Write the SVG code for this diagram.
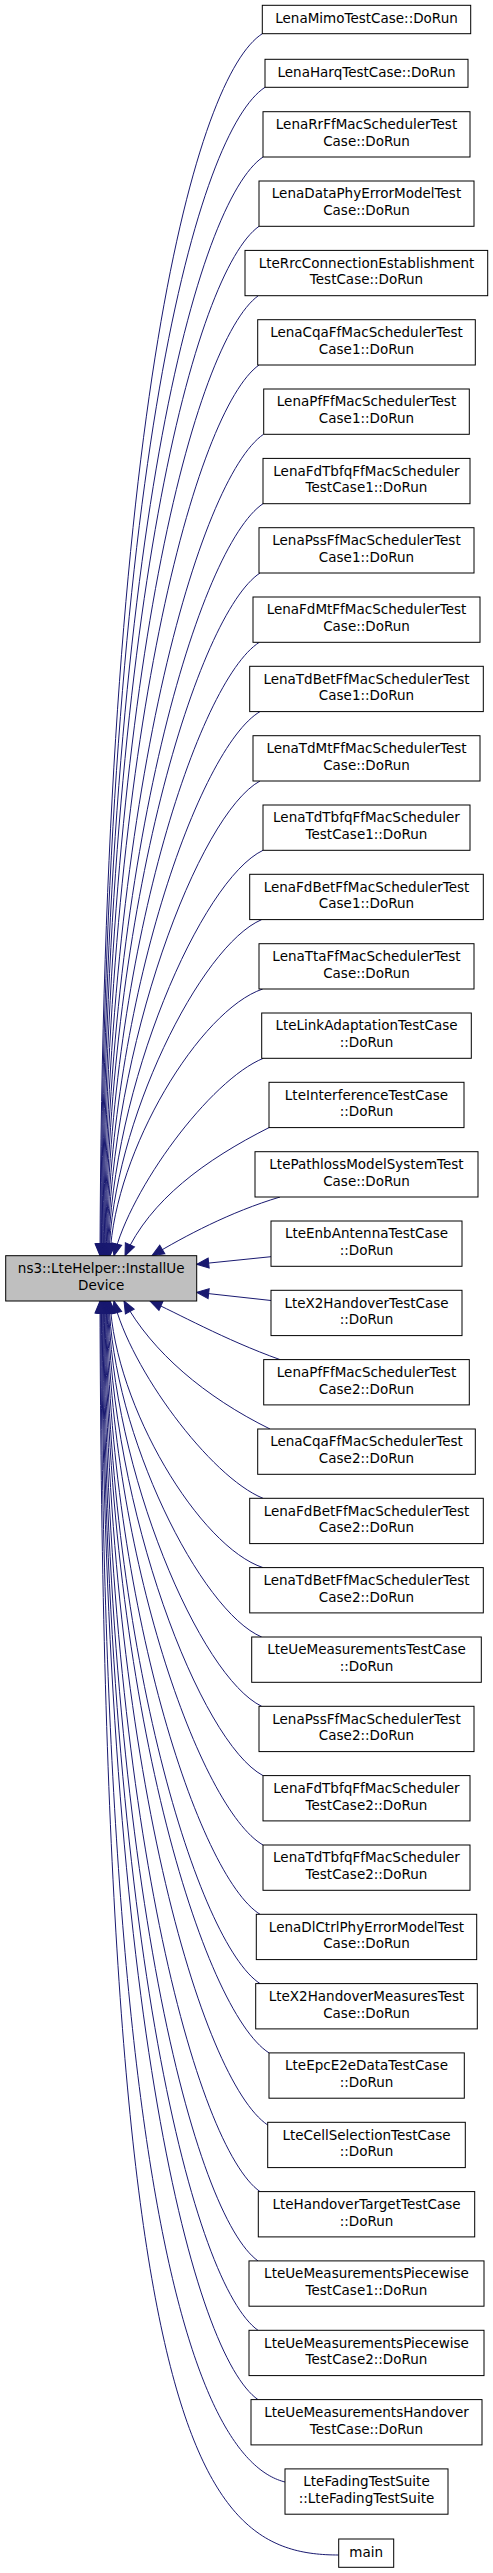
<svg xmlns="http://www.w3.org/2000/svg" width="493" height="2573" viewBox="0 0 493 2573">
<defs>
<marker id="ah" markerUnits="userSpaceOnUse" markerWidth="14" markerHeight="12" viewBox="-1 -1 14 12" refX="12" refY="5" orient="auto-start-reverse" overflow="visible">
<path d="M0,0 L12,5 L0,10 z" fill="#191970" stroke="#191970" stroke-width="1"/>
</marker>
<style>
.n rect{fill:#ffffff;stroke:#000000;stroke-width:1}
.c rect{fill:#bfbfbf;stroke:#000000;stroke-width:1}
text{font-family:"DejaVu Sans","Liberation Sans",sans-serif;font-size:13.5px;text-anchor:middle;fill:#000000}
.e path{fill:none;stroke:#191970;stroke-width:1;marker-start:url(#ah)}
</style>
</defs>
<rect width="493" height="2573" fill="#ffffff"/>
<g id="edges" class="e">
<path d="M100,1255.7 C103,400.3 197.4,75.2 262.3,33.7"/>
<path d="M100.7,1255.7 C103.7,459.4 199.3,130.1 265,87.3"/>
<path d="M101.4,1255.7 C104.4,533.4 198.4,200.8 263,157"/>
<path d="M102.1,1255.7 C105.1,603.6 196.2,270.9 259,226.3"/>
<path d="M102.8,1255.7 C105.8,670.8 196.1,340.7 258.3,295.7"/>
<path d="M103.5,1255.7 C106.5,734 196.8,409.4 259,365"/>
<path d="M104.2,1255.7 C107.2,794.3 199.8,478.1 263.5,434.3"/>
<path d="M104.9,1255.7 C107.9,851.5 199.8,546.5 263,503.7"/>
<path d="M105.6,1255.7 C108.6,904.9 198.2,613.9 260,573"/>
<path d="M106.3,1255.7 C109.3,955.5 198.1,681.5 259.3,642.3"/>
<path d="M107,1255.7 C110,1002.2 198.8,747.9 260,711.6"/>
<path d="M107.7,1255.7 C110.7,1045.9 199.1,814.2 260,781"/>
<path d="M108.4,1255.7 C111.4,1086.2 201.2,880 263,850.3"/>
<path d="M109.1,1255.7 C112.1,1123.2 200.7,945.4 261.7,919.6"/>
<path d="M110,1255.7 C115,1150 200,1010 262.7,989"/>
<path d="M114,1255.7 C130,1189 210,1080 263.3,1058.3"/>
<path d="M125,1255.7 C150,1200 205,1160 269,1127.6"/>
<path d="M152,1255.7 C185,1236 230,1212 280,1197"/>
<path d="M196.7,1264.3 L271,1256.7"/>
<path d="M196.7,1292.3 L271,1300.5"/>
<path d="M150,1301 C175,1312 225,1340 280,1359.6"/>
<path d="M124,1301 C152,1352 205,1397 270,1429"/>
<path d="M114,1301 C130,1368 210,1476.7 263,1498.3"/>
<path d="M110,1301 C115,1407 200,1547 263,1567.6"/>
<path d="M109.1,1301 C112.1,1433.6 200.7,1611.5 261.7,1637"/>
<path d="M108.4,1301 C111.4,1470.7 200.4,1677 261.7,1706.3"/>
<path d="M107.7,1301 C110.7,1510.8 200.9,1742.5 263,1775.6"/>
<path d="M107,1301 C110,1554.6 200.6,1809 263,1845"/>
<path d="M106.3,1301 C109.3,1601.7 198.5,1875.9 260,1914.3"/>
<path d="M105.6,1301 C108.6,1652 198.2,1943.1 260,1983.6"/>
<path d="M104.9,1301 C107.9,1705.7 203.4,2010.7 269,2052.9"/>
<path d="M104.2,1301 C107.2,1764.6 202.3,2081.2 267.7,2125"/>
<path d="M103.5,1301 C106.5,1822.9 197.4,2147.5 260,2191.6"/>
<path d="M102.8,1301 C105.8,1886.5 195.9,2216.5 258,2260.9"/>
<path d="M102.1,1301 C105.1,1953.4 195.6,2286.1 258,2330.3"/>
<path d="M101.4,1301 C104.4,2023.7 195.4,2356.1 258,2399.6"/>
<path d="M100.7,1301 C103.7,2250 205,2462 285,2482"/>
<path d="M100,1301 C103,2450 200,2555 338.7,2555"/>
</g>
<g id="node_center" class="c"><rect x="5.7" y="1255.7" width="191" height="45.3"/><text x="101.2" y="1273">ns3::LteHelper::InstallUe</text><text x="101.2" y="1290">Device</text></g>
<g id="node_mimo" class="n"><rect x="262.3" y="5.3" width="208.4" height="28.4"/><text x="366.5" y="23">LenaMimoTestCase::DoRun</text></g>
<g id="node_harq" class="n"><rect x="265" y="59.3" width="203" height="28"/><text x="366.5" y="77">LenaHarqTestCase::DoRun</text></g>
<g id="node_rrff" class="n"><rect x="263" y="111.7" width="207" height="45.3"/><text x="366.5" y="129">LenaRrFfMacSchedulerTest</text><text x="366.5" y="145.7">Case::DoRun</text></g>
<g id="node_dataphy" class="n"><rect x="259" y="181" width="215" height="45.3"/><text x="366.5" y="198.3">LenaDataPhyErrorModelTest</text><text x="366.5" y="215">Case::DoRun</text></g>
<g id="node_rrc" class="n"><rect x="245" y="250.4" width="242.7" height="45.3"/><text x="366.5" y="267.7">LteRrcConnectionEstablishment</text><text x="366.5" y="284.4">TestCase::DoRun</text></g>
<g id="node_cqa1" class="n"><rect x="257.7" y="319.7" width="217.6" height="45.3"/><text x="366.5" y="337">LenaCqaFfMacSchedulerTest</text><text x="366.5" y="353.7">Case1::DoRun</text></g>
<g id="node_pf1" class="n"><rect x="263.7" y="389" width="205.6" height="45.3"/><text x="366.5" y="406.3">LenaPfFfMacSchedulerTest</text><text x="366.5" y="423">Case1::DoRun</text></g>
<g id="node_fdtbfq1" class="n"><rect x="263" y="458.4" width="207" height="45.3"/><text x="366.5" y="475.7">LenaFdTbfqFfMacScheduler</text><text x="366.5" y="492.4">TestCase1::DoRun</text></g>
<g id="node_pss1" class="n"><rect x="259" y="527.7" width="215" height="45.3"/><text x="366.5" y="545">LenaPssFfMacSchedulerTest</text><text x="366.5" y="561.7">Case1::DoRun</text></g>
<g id="node_fdmt" class="n"><rect x="253" y="597" width="227" height="45.3"/><text x="366.5" y="614.3">LenaFdMtFfMacSchedulerTest</text><text x="366.5" y="631">Case::DoRun</text></g>
<g id="node_tdbet1" class="n"><rect x="249.7" y="666.3" width="233.6" height="45.3"/><text x="366.5" y="683.6">LenaTdBetFfMacSchedulerTest</text><text x="366.5" y="700.3">Case1::DoRun</text></g>
<g id="node_tdmt" class="n"><rect x="253" y="735.7" width="227" height="45.3"/><text x="366.5" y="753">LenaTdMtFfMacSchedulerTest</text><text x="366.5" y="769.7">Case::DoRun</text></g>
<g id="node_tdtbfq1" class="n"><rect x="263" y="805" width="207" height="45.3"/><text x="366.5" y="822.3">LenaTdTbfqFfMacScheduler</text><text x="366.5" y="839">TestCase1::DoRun</text></g>
<g id="node_fdbet1" class="n"><rect x="249.7" y="874.3" width="233.6" height="45.3"/><text x="366.5" y="891.6">LenaFdBetFfMacSchedulerTest</text><text x="366.5" y="908.3">Case1::DoRun</text></g>
<g id="node_tta" class="n"><rect x="259" y="943.7" width="215" height="45.3"/><text x="366.5" y="961">LenaTtaFfMacSchedulerTest</text><text x="366.5" y="977.7">Case::DoRun</text></g>
<g id="node_linkadapt" class="n"><rect x="261.7" y="1013" width="209.6" height="45.3"/><text x="366.5" y="1030.3">LteLinkAdaptationTestCase</text><text x="366.5" y="1047">::DoRun</text></g>
<g id="node_interf" class="n"><rect x="269" y="1082.3" width="195" height="45.3"/><text x="366.5" y="1099.6">LteInterferenceTestCase</text><text x="366.5" y="1116.3">::DoRun</text></g>
<g id="node_pathloss" class="n"><rect x="255" y="1151.7" width="223" height="45.3"/><text x="366.5" y="1169">LtePathlossModelSystemTest</text><text x="366.5" y="1185.7">Case::DoRun</text></g>
<g id="node_enbant" class="n"><rect x="271" y="1221" width="191" height="45.3"/><text x="366.5" y="1238.3">LteEnbAntennaTestCase</text><text x="366.5" y="1255">::DoRun</text></g>
<g id="node_x2ho" class="n"><rect x="271" y="1290.3" width="191" height="45.3"/><text x="366.5" y="1307.6">LteX2HandoverTestCase</text><text x="366.5" y="1324.3">::DoRun</text></g>
<g id="node_pf2" class="n"><rect x="263.7" y="1359.6" width="205.6" height="45.3"/><text x="366.5" y="1376.9">LenaPfFfMacSchedulerTest</text><text x="366.5" y="1393.6">Case2::DoRun</text></g>
<g id="node_cqa2" class="n"><rect x="257.7" y="1429" width="217.6" height="45.3"/><text x="366.5" y="1446.3">LenaCqaFfMacSchedulerTest</text><text x="366.5" y="1463">Case2::DoRun</text></g>
<g id="node_fdbet2" class="n"><rect x="249.7" y="1498.3" width="233.6" height="45.3"/><text x="366.5" y="1515.6">LenaFdBetFfMacSchedulerTest</text><text x="366.5" y="1532.3">Case2::DoRun</text></g>
<g id="node_tdbet2" class="n"><rect x="249.7" y="1567.6" width="233.6" height="45.3"/><text x="366.5" y="1584.9">LenaTdBetFfMacSchedulerTest</text><text x="366.5" y="1601.6">Case2::DoRun</text></g>
<g id="node_uemeas" class="n"><rect x="251.7" y="1637" width="229.6" height="45.3"/><text x="366.5" y="1654.3">LteUeMeasurementsTestCase</text><text x="366.5" y="1671">::DoRun</text></g>
<g id="node_pss2" class="n"><rect x="259" y="1706.3" width="215" height="45.3"/><text x="366.5" y="1723.6">LenaPssFfMacSchedulerTest</text><text x="366.5" y="1740.3">Case2::DoRun</text></g>
<g id="node_fdtbfq2" class="n"><rect x="263" y="1775.6" width="207" height="45.3"/><text x="366.5" y="1792.9">LenaFdTbfqFfMacScheduler</text><text x="366.5" y="1809.6">TestCase2::DoRun</text></g>
<g id="node_tdtbfq2" class="n"><rect x="263" y="1845" width="207" height="45.3"/><text x="366.5" y="1862.3">LenaTdTbfqFfMacScheduler</text><text x="366.5" y="1879">TestCase2::DoRun</text></g>
<g id="node_dlctrl" class="n"><rect x="256.3" y="1914.3" width="220.4" height="45.3"/><text x="366.5" y="1931.6">LenaDlCtrlPhyErrorModelTest</text><text x="366.5" y="1948.3">Case::DoRun</text></g>
<g id="node_x2hm" class="n"><rect x="255.7" y="1983.6" width="221.6" height="45.3"/><text x="366.5" y="2000.9">LteX2HandoverMeasuresTest</text><text x="366.5" y="2017.6">Case::DoRun</text></g>
<g id="node_epc" class="n"><rect x="269" y="2052.9" width="195.3" height="45.3"/><text x="366.5" y="2070.2">LteEpcE2eDataTestCase</text><text x="366.5" y="2086.9">::DoRun</text></g>
<g id="node_cellsel" class="n"><rect x="267.7" y="2122.3" width="197.6" height="45.3"/><text x="366.5" y="2139.6">LteCellSelectionTestCase</text><text x="366.5" y="2156.3">::DoRun</text></g>
<g id="node_hotarget" class="n"><rect x="258.3" y="2191.6" width="216.4" height="45.3"/><text x="366.5" y="2208.9">LteHandoverTargetTestCase</text><text x="366.5" y="2225.6">::DoRun</text></g>
<g id="node_pw1" class="n"><rect x="249" y="2260.9" width="235" height="45.3"/><text x="366.5" y="2278.2">LteUeMeasurementsPiecewise</text><text x="366.5" y="2294.9">TestCase1::DoRun</text></g>
<g id="node_pw2" class="n"><rect x="249" y="2330.3" width="235" height="45.3"/><text x="366.5" y="2347.6">LteUeMeasurementsPiecewise</text><text x="366.5" y="2364.3">TestCase2::DoRun</text></g>
<g id="node_uemh" class="n"><rect x="251" y="2399.6" width="231" height="45.3"/><text x="366.5" y="2416.9">LteUeMeasurementsHandover</text><text x="366.5" y="2433.6">TestCase::DoRun</text></g>
<g id="node_fading" class="n"><rect x="285" y="2468.9" width="163" height="45.3"/><text x="366.5" y="2486.2">LteFadingTestSuite</text><text x="366.5" y="2502.9">::LteFadingTestSuite</text></g>
<g id="node_main" class="n"><rect x="338.7" y="2539" width="55" height="28.3"/><text x="366.2" y="2557">main</text></g>
</svg>
